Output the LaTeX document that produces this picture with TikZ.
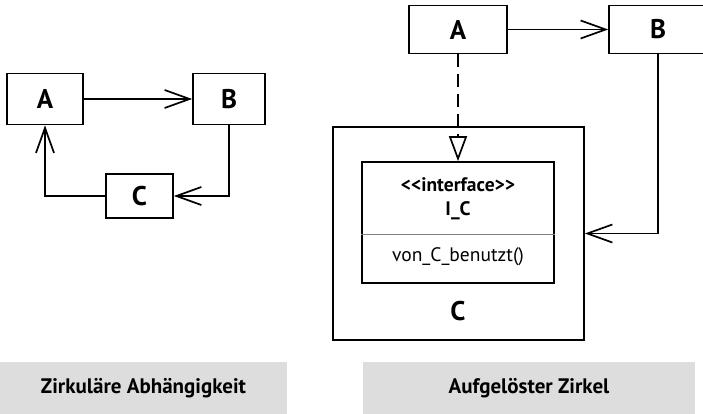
\documentclass[tikz,border=0pt]{standalone}
\usepackage{fontspec}
\setmainfont{PT Sans}[Ligatures=TeXOff]
\usetikzlibrary{arrows.meta}
\definecolor{lbl}{RGB}{221,221,221}
\tikzset{
  box/.style={draw, line width=1.7pt, rectangle, inner sep=0pt, anchor=center},
  big/.style={font=\bfseries\fontsize{27}{30}\selectfont},
  dep/.style={line width=1.7pt, -{Straight Barb[length=25pt,width=18pt,line width=1.7pt]}},
  real/.style={line width=1.7pt, dash pattern=on 13pt off 7pt, -{Triangle[open,length=25pt,width=18pt,line width=1.7pt]}},
  caption/.style={fill=lbl, inner sep=0pt, font=\bfseries\fontsize{21}{25}\selectfont},
  itext/.style={font=\fontsize{19.5}{22}\selectfont},
  ibold/.style={font=\bfseries\fontsize{19.5}{22}\selectfont},
}
\begin{document}
\begin{tikzpicture}[x=1pt,y=-1pt]
\clip (0,0) rectangle (703,414);
% left diagram
\node[box, big, minimum width=76pt, minimum height=51pt] (lA) at (45,99) {A};
\node[box, big, minimum width=72pt, minimum height=51pt] (lB) at (229,99) {B};
\node[box, big, minimum width=67pt, minimum height=44pt] (lC) at (139.5,196) {C};
\draw[dep] (lA) -- (lB);
\draw[dep] (lB.south) |- (lC.east);
\draw[dep] (lC.west) -| (lA.south);
% right diagram
\node[box, big, minimum width=98pt, minimum height=48pt] (rA) at (458,29.5) {A};
\node[box, big, minimum width=98pt, minimum height=48pt] (rB) at (658,29.5) {B};
\node[box, minimum width=251pt, minimum height=213pt] (rC) at (458.5,233.5) {};
\node[box, minimum width=192pt, minimum height=121pt] (iC) at (458,222.5) {};
\draw[line width=0.8pt, gray] (iC.west |- 0,234) coordinate (dL) -- (iC.east |- 0,234) coordinate (dR);
\node[ibold] (stereo) at (458,185) {<<interface>>};
\node[ibold] (iname) at (458,211) {I\_C};
\node[itext] (meth) at (458,257) {von\_C\_benutzt()};
\node[big] (cname) at (458,311) {C};
\draw[dep] (rA) -- (rB);
\draw[real] (rA.south) -- (iC.north);
\draw[dep] (rB.south) |- (rC.east);
% captions
\node[caption, minimum width=287pt, minimum height=52pt] (cap1) at (143.5,388) {Zirkuläre Abhängigkeit};
\node[caption, minimum width=332pt, minimum height=52pt] (cap2) at (529,388) {Aufgelöster Zirkel};
\end{tikzpicture}
\end{document}
